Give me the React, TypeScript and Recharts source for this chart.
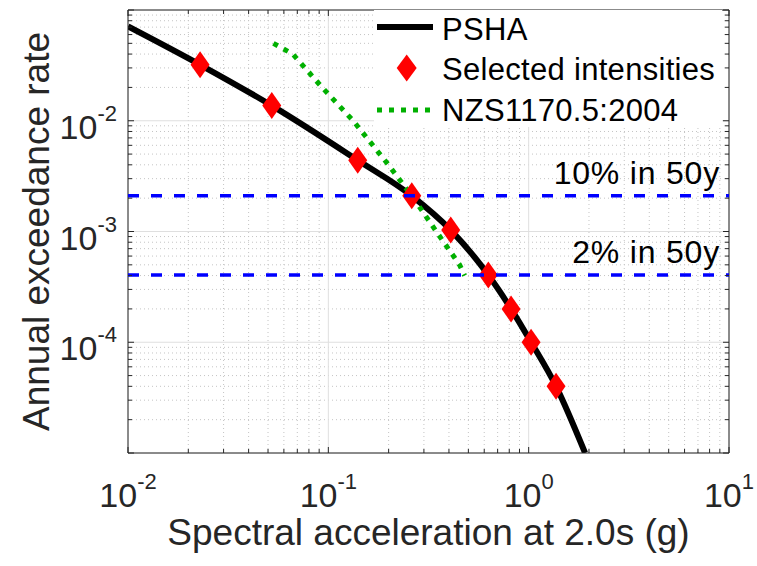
import React from 'react';
import { ComposedChart, Line, Scatter, XAxis, YAxis, ReferenceLine, Legend } from 'recharts';

// hazard curve (Sa in g, annual rate)
const pshaSa = [0.01, 0.0229, 0.0522, 0.1402, 0.2609, 0.4083, 0.629, 0.8168, 1.028, 1.37, 1.913];
const pshaRate = [0.071, 0.032, 0.0137, 0.0044, 0.0021, 0.00103, 0.000404, 0.0002, 0.0001, 0.00004, 0.00001];

const selectedSa = [0.0229, 0.0522, 0.1402, 0.2609, 0.4083, 0.629, 0.8168, 1.028, 1.37];
const selectedRate = [0.032, 0.0137, 0.0044, 0.0021, 0.00103, 0.000404, 0.0002, 0.0001, 0.00004];

const nzsSa = [0.0532, 0.0665, 0.0931, 0.133, 0.1995, 0.266, 0.346, 0.452, 0.479];
const nzsRate = [0.05, 0.04, 0.02, 0.01, 0.004, 0.002, 0.001, 0.0005, 0.0004];

const hazardRates = [0.0021, 0.000404];
const hazardLabels = ['10% in 50y', '2% in 50y'];

const xDecades = [0.01, 0.1, 1, 10];
const yDecades = [0.00001, 0.0001, 0.001, 0.01, 0.1];
const yLabelled = [0.0001, 0.001, 0.01];
const minorSteps = [2, 3, 4, 5, 6, 7, 8, 9];
const legendNames = ['PSHA', 'Selected intensities', 'NZS1170.5:2004'];

const FONT = '"Liberation Sans", Arial, Helvetica, sans-serif';
const AXIS = '#262626';

const minorOf = (dec: number[]) => dec.slice(0, -1).flatMap((d) => minorSteps.map((m) => m * d));
const xMinor = minorOf(xDecades);
const yMinor = minorOf(yDecades);
const xTicks = [...xDecades, ...xMinor].sort((a, b) => a - b);
const yTicks = [...yDecades, ...yMinor].sort((a, b) => a - b);

const pshaData = pshaSa.map((x, i) => ({ x, y: pshaRate[i] }));
const selectedData = selectedSa.map((x, i) => ({ x, y: selectedRate[i] }));
const nzsData = nzsSa.map((x, i) => ({ x, y: nzsRate[i] }));

const isDecade = (v: number) => {
  const l = Math.log10(v);
  return Math.abs(l - Math.round(l)) < 1e-6;
};
const near = (a: number, b: number) => Math.abs(Math.log10(a) - Math.log10(b)) < 1e-6;

const Pow = ({ x, y, v, anchor }: any) => (
  <text x={x} y={y} textAnchor={anchor} fontFamily={FONT} fontSize={34} fill={AXIS}>
    <tspan>10</tspan>
    <tspan dy={-18} fontSize={22}>{Math.round(Math.log10(v))}</tspan>
  </text>
);

const BottomTick = ({ x, y, payload }: any) => {
  const major = isDecade(payload.value);
  return (
    <g>
      <line x1={x} x2={x} y1={y} y2={y - (major ? 6 : 4)} stroke={AXIS} />
      {major && <Pow x={x} y={y + 54} v={payload.value} anchor="middle" />}
    </g>
  );
};

const TopTick = ({ x, y, payload }: any) => {
  const major = isDecade(payload.value);
  return <line x1={x} x2={x} y1={y} y2={y + (major ? 6 : 4)} stroke={AXIS} />;
};

const LeftTick = ({ x, y, payload }: any) => {
  const major = isDecade(payload.value);
  const show = yLabelled.some((v) => near(v, payload.value));
  return (
    <g>
      <line x1={x} x2={x + (major ? 6 : 4)} y1={y} y2={y} stroke={AXIS} />
      {show && <Pow x={x - 11} y={y + 18} v={payload.value} anchor="end" />}
    </g>
  );
};

const RightTick = ({ x, y, payload }: any) => {
  const major = isDecade(payload.value);
  return <line x1={x} x2={x - (major ? 6 : 4)} y1={y} y2={y} stroke={AXIS} />;
};

const Diamond = ({ cx, cy }: any) => (
  <polygon
    points={`${cx},${cy - 13.5} ${cx + 9.5},${cy} ${cx},${cy + 13.5} ${cx - 9.5},${cy}`}
    fill="#ff0000"
  />
);

const YLabel = ({ viewBox }: any) => {
  const cy = viewBox.y + viewBox.height / 2;
  const cx = 49;
  return (
    <text
      x={cx}
      y={cy}
      transform={`rotate(-90, ${cx}, ${cy})`}
      textAnchor="middle"
      fontFamily={FONT}
      fontSize={37}
      fill={AXIS}
    >
      Annual exceedance rate
    </text>
  );
};

const hazardText = (text: string) => (p: any) => {
  const vb = p.viewBox;
  return (
    <text x={vb.x + vb.width - 9} y={vb.y - 12} textAnchor="end" fontFamily={FONT} fontSize={32} letterSpacing={0.8} fill="#000">
      {text}
    </text>
  );
};

const renderLegend = () => (
  <svg width={348} height={117} style={{ display: 'block' }}>
    <rect x={0} y={0} width={348} height={117} fill="#fff" />
    <line x1={3} x2={59} y1={17} y2={17} stroke="#000" strokeWidth={6} />
    <polygon points="32.7,44.5 42.7,58 32.7,71.5 22.7,58" fill="#ff0000" />
    <line x1={3} x2={58} y1={100} y2={100} stroke="#00b000" strokeWidth={5} strokeDasharray="5 7" />
    {legendNames.map((n, i) => (
      <text key={n} x={68} y={29.5 + i * 40.7} fontFamily={FONT} fontSize={31} letterSpacing={0.3} fill="#000">
        {n}
      </text>
    ))}
  </svg>
);

export default function App() {
  return (
    <div style={{ position: 'absolute', left: 0, top: 0, width: 757, height: 566, background: '#fff' }}>
      <ComposedChart width={757} height={566} margin={{ top: 0, right: 0, bottom: 0, left: 0 }}>
        {xMinor.map((v) => (
          <ReferenceLine key={`vx${v}`} xAxisId="x" yAxisId="y" x={v} stroke="#c4c4c4" strokeDasharray="1 3" zIndex={-100} />
        ))}
        {yMinor.map((v) => (
          <ReferenceLine key={`hy${v}`} xAxisId="x" yAxisId="y" y={v} stroke="#c4c4c4" strokeDasharray="1 3" zIndex={-100} />
        ))}
        {xDecades.map((v) => (
          <ReferenceLine key={`VX${v}`} xAxisId="x" yAxisId="y" x={v} stroke="#dfdfdf" zIndex={-90} />
        ))}
        {yDecades.map((v) => (
          <ReferenceLine key={`HY${v}`} xAxisId="x" yAxisId="y" y={v} stroke="#dfdfdf" zIndex={-90} />
        ))}
        <XAxis
          xAxisId="x"
          dataKey="x"
          type="number"
          scale="log"
          domain={[0.01, 10]}
          allowDataOverflow
          ticks={xTicks}
          interval={0}
          height={113}
          tickSize={0}
          tickMargin={0}
          tickLine={false}
          tick={<BottomTick />}
          axisLine={{ stroke: AXIS }}
          label={{
            value: 'Spectral acceleration at 2.0s (g)',
            position: 'insideBottom',
            offset: 21,
            fontSize: 37,
            fill: AXIS,
            fontFamily: FONT,
          }}
        />
        <XAxis
          xAxisId="top"
          orientation="top"
          dataKey="x"
          type="number"
          scale="log"
          domain={[0.01, 10]}
          allowDataOverflow
          ticks={xTicks}
          interval={0}
          height={10}
          tickSize={0}
          tickMargin={0}
          tickLine={false}
          tick={<TopTick />}
          axisLine={{ stroke: AXIS }}
        />
        <YAxis
          yAxisId="y"
          dataKey="y"
          type="number"
          scale="log"
          domain={[0.00001, 0.1]}
          allowDataOverflow
          ticks={yTicks}
          interval={0}
          width={128}
          tickSize={0}
          tickMargin={0}
          tickLine={false}
          tick={<LeftTick />}
          axisLine={{ stroke: AXIS }}
          label={<YLabel />}
        />
        <YAxis
          yAxisId="right"
          orientation="right"
          dataKey="y"
          type="number"
          scale="log"
          domain={[0.00001, 0.1]}
          allowDataOverflow
          ticks={yTicks}
          interval={0}
          width={28}
          tickSize={0}
          tickMargin={0}
          tickLine={false}
          tick={<RightTick />}
          axisLine={{ stroke: AXIS }}
        />
        <Line
          xAxisId="x"
          yAxisId="y"
          data={pshaData}
          dataKey="y"
          type="monotone"
          stroke="#000"
          strokeWidth={6}
          dot={false}
          activeDot={false}
          isAnimationActive={false}
        />
        <Line
          xAxisId="x"
          yAxisId="y"
          data={nzsData}
          dataKey="y"
          type="linear"
          stroke="#00b000"
          strokeWidth={5}
          strokeDasharray="5 6.6"
          dot={false}
          activeDot={false}
          isAnimationActive={false}
        />
        <Scatter
          xAxisId="x"
          yAxisId="y"
          data={selectedData}
          dataKey="y"
          shape={<Diamond />}
          isAnimationActive={false}
        />
        {hazardRates.map((r, i) => (
          <ReferenceLine
            key={r}
            xAxisId="x"
            yAxisId="y"
            y={r}
            stroke="#0000ff"
            strokeWidth={3.5}
            strokeDasharray="11 12"
            zIndex={700}
            label={hazardText(hazardLabels[i])}
          />
        ))}
        <Legend
          layout="vertical"
          align="center"
          verticalAlign="middle"
          content={renderLegend}
          wrapperStyle={{ left: 374, top: 10, width: 348, height: 117 }}
        />
      </ComposedChart>
    </div>
  );
}
